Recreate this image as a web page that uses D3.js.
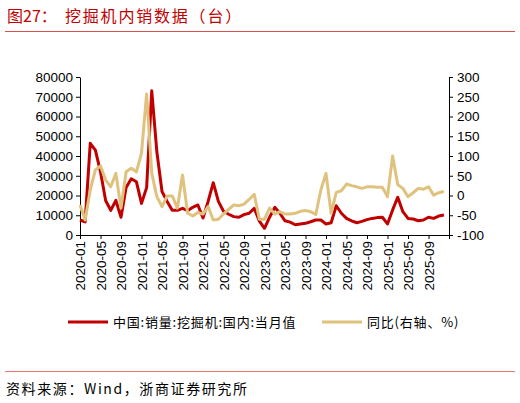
<!DOCTYPE html>
<html>
<head>
<meta charset="utf-8">
<script src="https://cdn.jsdelivr.net/npm/d3@7"></script>
<style>
  body { margin: 0; background: #fff; }
  svg { display: block; }
</style>
</head>
<body>
<div id="chart"></div>
<script>
const width = 520;
const height = 403;

// monthly, 2020-01 .. 2025-12
const startYear = 2020;
const sales = [
    7600, 6600, 46400, 43000, 32000, 17500, 12500, 17500, 9000, 24000, 28500, 27000,
    16000, 24000, 73000, 42000, 22000, 17000, 12500, 12500, 13500, 12300, 14000, 15200,
    8600, 17000, 26500, 17000, 12000, 10500, 9300, 9000, 10300, 11000, 13500, 7000,
    3400, 9000, 14000, 11000, 7200, 6500, 5200, 5600, 5900, 6700, 7600, 7600,
    5600, 6200, 14800, 11000, 8400, 7200, 6200, 6900, 7800, 8400, 8800, 9000,
    5600, 12700, 19100, 11800, 8400, 8100, 7200, 7600, 9000, 8400, 9600, 10100
];
const yoy = [
    -24, -62, 14, 65, 75, 39, 22, 56, -32, 60, 69, 60,
    107, 257, 56, -3, -28, -1, -1, -32, 52, -45, -52, -43,
    -47, -28, -62, -60, -47, -35, -24, -26, -22, -10, 3, -60,
    -60, -32, -47, -41, -47, -47, -45, -40, -38, -41, -48, 14,
    56, -45, 8, 12, 29, 25, 22, 18, 22, 22, 21, 21,
    -3, 100, 27, 18, -3, 7, 18, 16, 22, 1, 7, 10
];
const tickLabels = [
    "2020-01", "2020-05", "2020-09", "2021-01", "2021-05", "2021-09",
    "2022-01", "2022-05", "2022-09", "2023-01", "2023-05", "2023-09",
    "2024-01", "2024-05", "2024-09", "2025-01", "2025-05", "2025-09"
];
const leftTicks = [0, 10000, 20000, 30000, 40000, 50000, 60000, 70000, 80000];
const rightTicks = [-100, -50, 0, 50, 100, 150, 200, 250, 300];

const seriesNames = ["中国:销量:挖掘机:国内:当月值", "同比(右轴、%)"];
const red = "#c00000";
const gold = "#dfc27d";

const monthIndex = label => (+label.slice(0, 4) - startYear) * 12 + (+label.slice(5) - 1);

const svg = d3.select("#chart").append("svg")
    .attr("width", width)
    .attr("height", height);

// title
svg.append("text")
    .attr("x", 7).attr("y", 22)
    .attr("fill", red)
    .style("font-family", "'Noto Sans CJK SC'")
    .style("font-size", "16px")
    .text("图27：");
svg.append("text")
    .attr("x", 65).attr("y", 22)
    .attr("fill", red)
    .style("font-family", "'Noto Sans CJK SC'")
    .style("font-size", "16px")
    .style("letter-spacing", "1.8px")
    .text("挖掘机内销数据（台）");
svg.append("line")
    .attr("x1", 5).attr("x2", 515)
    .attr("y1", 31.5).attr("y2", 31.5)
    .attr("stroke", "#d95050").attr("stroke-width", 1);

const x = d3.scaleLinear().domain([0, 72]).range([80, 449]);
const yL = d3.scaleLinear().domain([0, 80000]).range([235, 77]);
const yR = d3.scaleLinear().domain([-100, 300]).range([235, 77]);

const axisFont = g => g.selectAll("text")
    .style("font-family", "'Liberation Sans', Arial")
    .style("font-size", "13.5px")
    .attr("fill", "#000");

svg.append("g")
    .attr("transform", "translate(80,0)")
    .call(d3.axisLeft(yL).tickValues(leftTicks).tickFormat(d => String(d))
        .tickSize(4).tickPadding(3).tickSizeOuter(0))
    .call(axisFont);

svg.append("g")
    .attr("transform", "translate(449,0)")
    .call(d3.axisRight(yR).tickValues(rightTicks).tickFormat(d => String(d))
        .tickSize(4).tickPadding(4).tickSizeOuter(0))
    .call(axisFont);

const xTicks = tickLabels.map(monthIndex).concat([72]);
const xg = svg.append("g")
    .attr("transform", "translate(0,235)")
    .call(d3.axisBottom(x).tickValues(xTicks).tickSize(4).tickSizeOuter(0)
        .tickFormat(d => tickLabels[xTicks.indexOf(d)] || ""));
xg.call(axisFont);
xg.selectAll("text")
    .attr("transform", "rotate(-90)")
    .attr("text-anchor", "end")
    .attr("x", -6)
    .attr("y", 0)
    .attr("dy", "0.35em");

// lines
const lineL = d3.line().x((d, i) => x(i)).y(d => yL(d));
const lineR = d3.line().x((d, i) => x(i)).y(d => yR(d));

svg.append("path")
    .datum(sales)
    .attr("d", lineL)
    .attr("fill", "none")
    .attr("stroke", red)
    .attr("stroke-width", 3)
    .attr("stroke-linejoin", "round");

svg.append("path")
    .datum(yoy)
    .attr("d", lineR)
    .attr("fill", "none")
    .attr("stroke", gold)
    .attr("stroke-width", 3)
    .attr("stroke-linejoin", "round");

// legend
const legend = svg.append("g").attr("transform", "translate(0,322)");
[[68, red, seriesNames[0]], [322, gold, seriesNames[1]]].forEach(([lx, c, name]) => {
    legend.append("line")
        .attr("x1", lx).attr("x2", lx + 40)
        .attr("y1", 0).attr("y2", 0)
        .attr("stroke", c).attr("stroke-width", 3);
    legend.append("text")
        .attr("x", lx + 45).attr("y", 4.5)
        .style("font-family", "'Noto Sans CJK SC'")
        .style("font-size", "13px")
        .style("letter-spacing", "0.8px")
        .attr("fill", "#000")
        .text(name);
});

// footer
svg.append("line")
    .attr("x1", 5).attr("x2", 515)
    .attr("y1", 371.5).attr("y2", 371.5)
    .attr("stroke", "#e87474").attr("stroke-width", 1);
svg.append("text")
    .attr("x", 6).attr("y", 394)
    .style("font-family", "'Noto Sans CJK SC'")
    .style("font-size", "14px")
    .style("letter-spacing", "1.6px")
    .attr("fill", "#000")
    .text("资料来源：Wind，浙商证券研究所");
</script>
</body>
</html>
